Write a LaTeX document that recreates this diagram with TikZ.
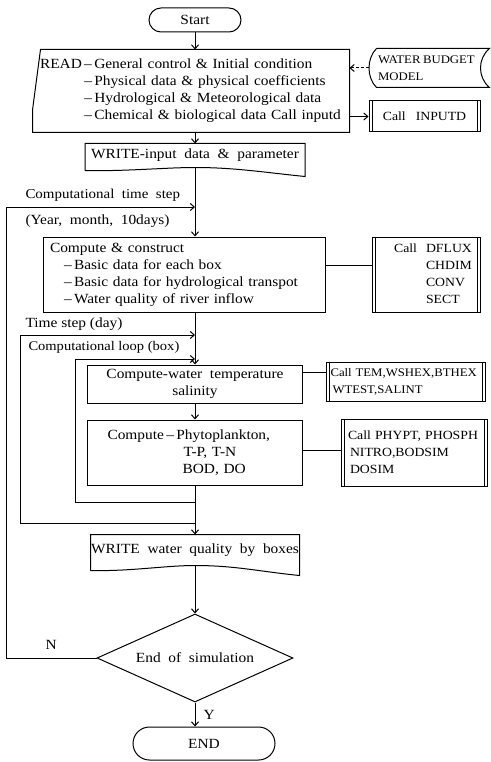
\documentclass[tikz,border=0pt]{standalone}
\usepackage{fontspec}
\setmainfont{Liberation Serif}[FakeStretch=1.1,WordSpace=2]
\newfontfamily\lblfont{Liberation Serif}[FakeStretch=1.1]
\usetikzlibrary{shapes.misc,shapes.geometric,arrows.meta,calc}
\newcommand\capsize{\fontsize{12.5}{17}\selectfont}
\newcommand\smallcaps{\fontsize{11.6}{17}\selectfont}
\newcommand\mydoc[3]{%
  \draw ($(#1.south west)+(0,#2)$) -- (#1.north west) -- (#1.north east) -- ($(#1.south east)+(0,#3)$)
    .. controls ($(#1.south east)+(-40,#3-4)$) and ($(#1.south)+(40,0)$) .. (#1.south)
    .. controls ($(#1.south)+(-30,0)$) and ($(#1.south west)+(40,#2+1)$) .. ($(#1.south west)+(0,#2)$);}
\begin{document}
\begin{tikzpicture}[x=1pt,y=-1pt, line width=1pt,
  every node/.style={font=\fontsize{14}{17}\selectfont, inner sep=0pt},
  box/.style={draw, rectangle},
  term/.style={draw, rounded rectangle},
  arr/.style={-{Straight Barb[length=4pt,width=7pt]}},
  lbl/.style={anchor=base west},
]
\useasboundingbox (0,0) rectangle (490,762);

% nodes
\node[term, minimum width=92pt, minimum height=24pt] (start) at (195,20) {Start};

\node[minimum width=316pt, minimum height=82pt, text width=302pt, align=left] (read) at (191,91)
  {\begin{tabular}{@{}l@{}l@{}}READ&\,–\,General control \& Initial condition\\
   &\,–\,Physical data \& physical coefficients\\
   &\,–\,Hydrological \& Meteorological data\\
   &\,–\,Chemical \& biological data Call inputd\end{tabular}};
\draw (read.south west) -- ($(read.south west)!0.27!(read.north west)$) -- ([xshift=8pt]read.north west) -- (read.north east) -- (read.south east) -- cycle;

\node[minimum width=112pt, minimum height=38pt, text width=110pt, align=left, font=\smallcaps] (wbm) at (433,68)
  {\mbox{WATER\hspace{2.5pt}BUDGET}\\MODEL};
\draw (wbm.north west) -- (wbm.north east) .. controls +(-12,10) and +(-12,-10) .. (wbm.south east)
  -- (wbm.south west) .. controls +(-10,-10) and +(-10,10) .. (wbm.north west);
\draw[arr, dash pattern=on 3pt off 2pt] ([xshift=-7.5pt]wbm.west) -- (wbm.west -| read.east);

\node[box, minimum width=111pt, minimum height=31pt, font=\capsize] (inputd) at (424.5,116.5) {Call\hspace{10pt}INPUTD};
\draw[arr] (read.east |- inputd.west) -- (inputd.west);

\node[minimum width=219pt, minimum height=23pt] (w1) at (195,155.5) {WRITE-input data \& parameter};
\mydoc{w1}{3}{9}

\node[box, minimum width=282pt, minimum height=75pt, text width=268pt, align=left] (comp) at (184,274.5)
  {Compute \& construct\\
   \hspace*{14pt}–\,Basic data for each box\\
   \hspace*{14pt}–\,Basic data for hydrological transpot\\
   \hspace*{14pt}–\,Water quality of river inflow};

\node[box, minimum width=108pt, minimum height=75pt, font=\capsize] (dflux) at (426,274.5)
  {\begin{tabular}{@{\hspace{14pt}}r@{\hspace{9pt}}l@{}}Call&DFLUX\\&CHDIM\\&CONV\\&SECT\end{tabular}};
\draw ([yshift=9.5pt]comp.east) -- ([yshift=9.5pt]dflux.west);

\node[box, minimum width=215pt, minimum height=38pt, align=center] (temp) at (195,384)
  {Compute-water temperature\\salinity};
\node[box, minimum width=159pt, minimum height=39pt, text width=150pt, align=left, font=\smallcaps] (tem) at (405.5,381.5)
  {\mbox{Call TEM,WSHEX,BTHEX}\\\hspace*{2pt}WTEST,SALINT};
\draw ([yshift=12pt]temp.east) -- ([yshift=12pt]temp.east -| tem.west);

\node[box, minimum width=215pt, minimum height=65pt, text width=175pt, align=left] (phyto) at (195,452.5)
  {Compute\,–\,Phytoplankton,\\\hspace*{76pt}T-P, T-N\\\hspace*{75pt}BOD, DO};
\node[box, minimum width=146pt, minimum height=67pt, text width=132pt, align=left, font=\capsize] (phypt) at (414,452.5)
  {\mbox{Call PHYPT, PHOSPH}\\\hspace*{2pt}NITRO,BODSIM\\\hspace*{2pt}DOSIM};
\draw ([yshift=2pt]phyto.east) -- ([yshift=2pt]phyto.east -| phypt.west);

\foreach \n in {inputd,dflux,tem,phypt}{
  \draw ([xshift=3.5pt]\n.north west) -- ([xshift=3.5pt]\n.south west);
  \draw ([xshift=-3.5pt]\n.north east) -- ([xshift=-3.5pt]\n.south east);
}

\node[minimum width=208pt, minimum height=30pt] (w2) at (195,550) {WRITE water quality by boxes};
\mydoc{w2}{5}{10}

\node[draw, diamond, aspect=2.2, minimum width=196pt, minimum height=88pt] (dec) at (195,658) {End of simulation};
\node[term, minimum width=142pt, minimum height=33pt] (end) at (204,743.5) {END};

% main flow
\draw[arr] (start.south) -- (start.south |- read.north);
\draw[arr] (start.south |- read.south) -- (w1.north);
\draw[arr] (w1.south) -- (w1.south |- comp.north);
\draw[arr] (w1.south |- comp.south) -- (temp.north);
\draw[arr] (temp.south) -- (phyto.north);
\draw[arr] (phyto.south) -- (w2.north);
\draw[arr] (w2.south) -- (dec.north);
\draw[arr] (dec.south) -- (dec.south |- end.north);

% loops
\coordinate (oL) at (6,207);
\coordinate (dL) at (20,335);
\coordinate (dB) at (195,523);
\coordinate (bL) at (75,359);
\coordinate (bB) at (195,502);
\draw[arr] (dec.west) -| (oL) -- (oL -| w1.south);
\draw[arr] (dB) -| (dL) -- (dL -| w1.south);
\draw[arr] (bB) -| (bL) -- (bL -| w1.south);

% labels
\node[lbl, font=\fontsize{13.6}{17}\selectfont] (l1) at (25,198) {Computational time step};
\node[lbl] (l2) at (25,224) {(Year, month, 10days)};
\node[lbl, font=\lblfont\fontsize{14}{17}\selectfont] (l3) at (25,327) {Time step (day)};
\node[lbl, font=\lblfont\fontsize{13.2}{17}\selectfont] (l4) at (28,350) {Computational loop (box)};
\node[lbl] (ln) at (45,649) {N};
\node[anchor=west] (ly) at (203,715) {Y};
\end{tikzpicture}
\end{document}
